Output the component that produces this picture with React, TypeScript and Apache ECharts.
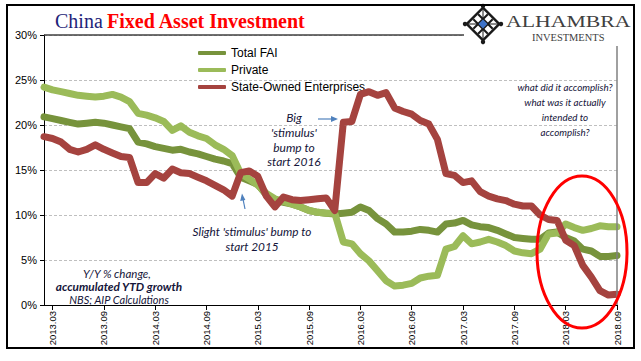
import React, { useEffect, useRef } from "react";
import * as echarts from "echarts";

const months: string[] = [
  "2013.02", "2013.03", "2013.04", "2013.05", "2013.06", "2013.07", "2013.08", "2013.09", "2013.10", "2013.11", "2013.12",
  "2014.01", "2014.02", "2014.03", "2014.04", "2014.05", "2014.06", "2014.07", "2014.08", "2014.09", "2014.10", "2014.11", "2014.12",
  "2015.01", "2015.02", "2015.03", "2015.04", "2015.05", "2015.06", "2015.07", "2015.08", "2015.09", "2015.10", "2015.11", "2015.12",
  "2016.01", "2016.02", "2016.03", "2016.04", "2016.05", "2016.06", "2016.07", "2016.08", "2016.09", "2016.10", "2016.11", "2016.12",
  "2017.01", "2017.02", "2017.03", "2017.04", "2017.05", "2017.06", "2017.07", "2017.08", "2017.09", "2017.10", "2017.11", "2017.12",
  "2018.01", "2018.02", "2018.03", "2018.04", "2018.05", "2018.06", "2018.07", "2018.08", "2018.09",
];

const totalFAI: number[] = [
  20.9, 20.7, 20.5, 20.3, 20.1, 20.2, 20.3, 20.2, 20.0, 19.8, 19.6,
  18.1, 17.9, 17.6, 17.4, 17.2, 17.3, 17.0, 16.8, 16.5, 16.2, 16.0, 15.7,
  14.2, 13.8, 13.4, 12.2, 11.6, 11.4, 11.2, 10.9, 10.5, 10.3, 10.2, 10.1,
  10.2, 10.3, 10.9, 10.5, 9.6, 9.0, 8.1, 8.1, 8.2, 8.4, 8.3, 8.1,
  9.0, 9.1, 9.4, 8.9, 8.7, 8.6, 8.3, 7.9, 7.5, 7.4, 7.3, 7.3,
  8.0, 8.1, 7.5, 7.1, 6.2, 6.0, 5.4, 5.4, 5.5,
];

const privateFAI: number[] = [
  24.2, 23.9, 23.7, 23.5, 23.3, 23.2, 23.1, 23.2, 23.4, 23.1, 22.6,
  21.3, 21.1, 20.8, 20.4, 19.4, 19.9, 19.2, 18.8, 18.5, 17.8, 17.3, 16.6,
  14.6, 14.0, 13.3, 12.4, 11.8, 11.5, 11.2, 10.9, 10.5, 10.3, 10.2, 10.2,
  7.0, 6.8, 5.7, 4.9, 3.8, 2.7, 2.1, 2.2, 2.4, 3.0, 3.2, 3.3,
  6.2, 6.5, 7.7, 6.8, 7.0, 7.3, 7.0, 6.6, 6.0, 5.8, 5.7, 6.2,
  7.9, 8.0, 9.0, 8.6, 8.3, 8.5, 8.8, 8.7, 8.7,
];

const soeFAI: number[] = [
  18.7, 18.5, 18.1, 17.3, 17.0, 17.3, 17.8, 17.3, 16.9, 16.5, 16.4,
  13.6, 13.6, 14.6, 14.1, 15.1, 14.7, 14.6, 14.2, 13.8, 13.3, 12.8, 12.1,
  14.7, 14.9, 14.3, 12.1, 10.9, 12.0, 11.7, 11.6, 11.7, 11.8, 11.9, 10.5,
  20.3, 20.4, 23.4, 23.7, 23.3, 23.6, 21.9, 21.5, 21.2, 20.5, 20.1, 18.4,
  14.6, 14.4, 13.6, 13.8, 12.6, 12.1, 11.8, 11.6, 11.2, 11.0, 11.0, 10.0,
  9.5, 9.4, 7.2, 6.6, 4.4, 3.1, 1.6, 1.1, 1.2,
];

const seriesNames: string[] = ["Total FAI", "Private", "State-Owned Enterprises"];
const seriesColors: string[] = ["#77933C", "#9BBB59", "#A5433F"];

const labelEvery = (index: number) => (index - 1) % 6 === 0;

const annoFont = "Lato, 'Open Sans', sans-serif";
const annoColor = "#15153a";
const arrowColor = "#4F81BD";
const serif = "'Liberation Serif', 'Times New Roman', serif";

export default function App() {
  const ref = useRef<HTMLDivElement>(null);

  useEffect(() => {
    if (!ref.current) return;
    const chart = echarts.init(ref.current, undefined, { renderer: "svg" });
    const values = [totalFAI, privateFAI, soeFAI];

    const option: any = {
      animation: false,
      backgroundColor: "#ffffff",
      grid: { left: 44, right: 24, top: 35, bottom: 56, containLabel: false },
      legend: {
        orient: "vertical",
        left: 193,
        top: 42,
        itemWidth: 28,
        itemHeight: 4,
        itemGap: 5,
        icon: "roundRect",
        data: seriesNames,
        textStyle: { fontFamily: "'Liberation Sans', Arial, sans-serif", fontSize: 12, color: "#000" },
      },
      xAxis: {
        type: "category",
        data: months,
        boundaryGap: false,
        axisLine: { lineStyle: { color: "#000", width: 1 } },
        axisTick: { interval: labelEvery, length: 5, lineStyle: { color: "#000" } },
        axisLabel: {
          interval: labelEvery,
          rotate: 90,
          fontSize: 9.5,
          fontFamily: "'Liberation Sans', Arial, sans-serif",
          color: "#000",
          margin: 6,
        },
        splitLine: { show: false },
      },
      yAxis: {
        type: "value",
        min: 0,
        max: 30,
        interval: 5,
        axisLine: { show: true, lineStyle: { color: "#000", width: 1 } },
        axisTick: { show: true, length: 4, lineStyle: { color: "#000" } },
        axisLabel: {
          formatter: "{value}%",
          fontSize: 11,
          fontFamily: "'Liberation Sans', Arial, sans-serif",
          color: "#000",
          margin: 7,
        },
        splitLine: { lineStyle: { color: "#BFBFBF", type: [3, 2], width: 1 } },
      },
      series: seriesNames.map((name, k) => ({
        name,
        type: "line",
        data: values[k],
        symbol: "none",
        color: seriesColors[k],
        lineStyle: { width: 7, color: seriesColors[k], cap: "round", join: "round" },
        emphasis: { disabled: true },
        z: 2 + k,
      })),
      graphic: [
        // plot border top and right
        { type: "line", shape: { x1: 44, y1: 35, x2: 464, y2: 35 }, style: { stroke: "#404040", lineWidth: 1.5 }, z: 10 },
        { type: "rect", shape: { x: 464, y: 6, width: 170, height: 40 }, style: { fill: "#ffffff" }, z: 10 },
        { type: "line", shape: { x1: 617, y1: 46, x2: 617, y2: 305 }, style: { stroke: "#808080", lineWidth: 1.5 }, z: 10 },
        // title
        {
          type: "text", x: 55, y: 11, z: 20,
          style: { text: "China", fill: "#1F1F7A", font: `normal 20px ${serif}`, verticalAlign: "top" },
        },
        {
          type: "text", x: 107, y: 11, z: 20,
          style: { text: "Fixed Asset Investment", fill: "#FF0000", font: `bold 20px ${serif}`, verticalAlign: "top" },
        },
        // logo icon
        { type: "polygon", shape: { points: [[483, 6], [501, 24], [483, 42], [465, 24]] }, style: { fill: "#1a1a1a" }, z: 20 },
        { type: "circle", shape: { cx: 483, cy: 6, r: 2.2 }, style: { fill: "#1a1a1a" }, z: 20 },
        { type: "circle", shape: { cx: 501, cy: 24, r: 2.2 }, style: { fill: "#1a1a1a" }, z: 20 },
        { type: "circle", shape: { cx: 483, cy: 42, r: 2.2 }, style: { fill: "#1a1a1a" }, z: 20 },
        { type: "circle", shape: { cx: 465, cy: 24, r: 2.2 }, style: { fill: "#1a1a1a" }, z: 20 },
        { type: "polygon", shape: { points: [[483, 9.5], [497.5, 24], [483, 38.5], [468.5, 24]] }, style: { fill: "#ffffff" }, z: 21 },
        { type: "line", shape: { x1: 473.33, y1: 19.17, x2: 487.83, y2: 33.67 }, style: { stroke: "#1a1a1a", lineWidth: 2 }, z: 22 },
        { type: "line", shape: { x1: 478.17, y1: 14.33, x2: 492.67, y2: 28.83 }, style: { stroke: "#1a1a1a", lineWidth: 2 }, z: 22 },
        { type: "line", shape: { x1: 473.33, y1: 28.83, x2: 487.83, y2: 14.33 }, style: { stroke: "#1a1a1a", lineWidth: 2 }, z: 22 },
        { type: "line", shape: { x1: 478.17, y1: 33.67, x2: 492.67, y2: 19.17 }, style: { stroke: "#1a1a1a", lineWidth: 2 }, z: 22 },
        { type: "line", shape: { x1: 468.5, y1: 24, x2: 497.5, y2: 24 }, style: { stroke: "#1a1a1a", lineWidth: 1 }, z: 22 },
        { type: "line", shape: { x1: 483, y1: 9.5, x2: 483, y2: 38.5 }, style: { stroke: "#1a1a1a", lineWidth: 1 }, z: 22 },
        { type: "polygon", shape: { points: [[478.6, 24], [483, 19.6], [487.4, 24], [483, 28.4]] }, style: { fill: "#3D72C8" }, z: 23 },
        // logo text
        {
          type: "text", x: 506, y: 13, scaleX: 1.28, z: 20,
          style: { text: "ALHAMBRA", fill: "#404040", font: `normal 17px ${serif}`, verticalAlign: "top" },
        },
        {
          type: "text", x: 532, y: 33, scaleX: 1.1, z: 20,
          style: { text: "INVESTMENTS", fill: "#404040", font: `normal 9.5px ${serif}`, verticalAlign: "top" },
        },
        // annotations
        {
          type: "text", x: 294, y: 110.5, z: 20,
          style: {
            text: "Big\n'stimulus'\nbump to\nstart 2016", fill: annoColor, align: "center", verticalAlign: "top",
            font: `italic 12px ${annoFont}`, lineHeight: 14.7,
          },
        },
        { type: "line", shape: { x1: 318, y1: 119, x2: 332, y2: 119 }, style: { stroke: arrowColor, lineWidth: 1.2 }, z: 20 },
        { type: "polygon", shape: { points: [[338, 119], [331, 116], [331, 122]] }, style: { fill: arrowColor }, z: 20 },
        {
          type: "text", x: 252, y: 223.5, z: 20,
          style: {
            text: "Slight 'stimulus' bump to\nstart 2015", fill: annoColor, align: "center", verticalAlign: "top",
            font: `italic 11.8px ${annoFont}`, lineHeight: 15,
          },
        },
        { type: "line", shape: { x1: 245, y1: 209, x2: 243, y2: 199 }, style: { stroke: arrowColor, lineWidth: 1.2 }, z: 20 },
        { type: "polygon", shape: { points: [[242, 193.5], [245.4, 200], [240.2, 201]] }, style: { fill: arrowColor }, z: 20 },
        {
          type: "text", x: 565, y: 79.5, z: 20,
          style: {
            text: "what did it accomplish?\nwhat was it actually\nintended to\naccomplish?", fill: annoColor, align: "center", verticalAlign: "top",
            font: `italic 9.8px ${annoFont}`, lineHeight: 15,
          },
        },
        {
          type: "text", x: 117, y: 273, z: 20,
          style: { text: "Y/Y % change,", fill: annoColor, align: "center", verticalAlign: "middle", font: `italic 11.5px ${annoFont}` },
        },
        {
          type: "text", x: 119, y: 286.5, z: 20,
          style: { text: "accumulated YTD growth", fill: annoColor, align: "center", verticalAlign: "middle", font: `italic bold 11.8px ${annoFont}` },
        },
        {
          type: "text", x: 119, y: 299.5, z: 20,
          style: { text: "NBS; AIP Calculations", fill: annoColor, align: "center", verticalAlign: "middle", font: `italic 11px ${annoFont}` },
        },
        // red ellipse
        { type: "ellipse", shape: { cx: 582, cy: 252, rx: 45, ry: 76 }, style: { fill: "rgba(0,0,0,0)", stroke: "#FF0000", lineWidth: 3 }, z: 30 },
        // outer border
        { type: "rect", shape: { x: 7, y: 5, width: 627, height: 343 }, style: { fill: "rgba(0,0,0,0)", stroke: "#000", lineWidth: 2 }, z: 40 },
      ],
    };

    chart.setOption(option);
    return () => chart.dispose();
  }, []);

  return (
    <div
      ref={ref}
      style={{ position: "fixed", left: 0, top: 0, width: 641, height: 361, background: "#fff" }}
    />
  );
}
